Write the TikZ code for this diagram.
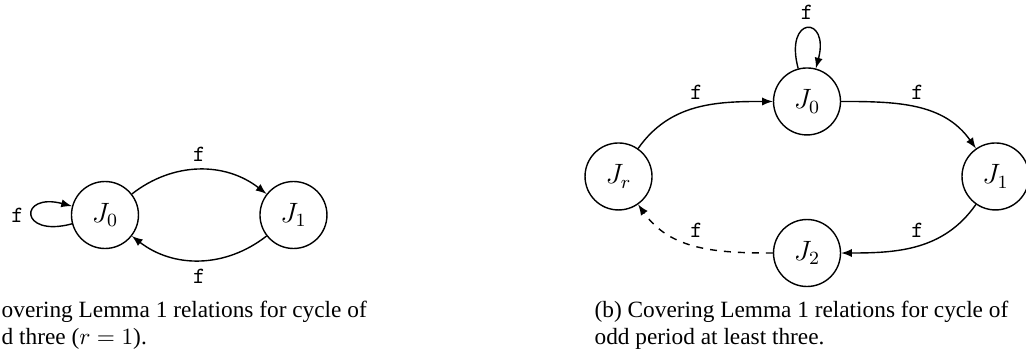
\documentclass[tikz,border=0pt]{standalone}
\usepackage{fontspec}
\setmainfont{Liberation Serif}
\begin{document}
\begin{tikzpicture}[semithick,
    stato/.style={circle,draw,minimum size=1.01cm,inner sep=0pt,font=\large},
    freccia/.style={-latex},
    etich/.style={font=\ttfamily,above},
    didasc/.style={anchor=base west,inner sep=0pt}]
    \useasboundingbox (0,0) rectangle (15.47,5.428);
    %stati figura (a)
    \node[stato] (J0a) at (1.583,2.186) {$J_0$};
    \node[stato] (J1a) at (4.425,2.186) {$J_1$};
    %frecce figura (a)
    \draw[freccia] (J0a) to[loop left] node[left,font=\ttfamily]{f} (J0a);
    \draw[freccia] (J0a) to[bend left=38] node[etich]{f} (J1a);
    \draw[freccia] (J1a) to[bend left=38] node[below,font=\ttfamily]{f} (J0a);
    %stati figura (b)
    \node[stato] (Jr) at (9.326,2.767) {$J_r$};
    \node[stato] (J0) at (12.168,3.898) {$J_0$};
    \node[stato] (J1) at (15.010,2.767) {$J_1$};
    \node[stato] (J2) at (12.168,1.613) {$J_2$};
    %frecce figura (b)
    \draw[freccia] (J0) to[loop above] node[etich]{f} (J0);
    \draw[freccia] (Jr) to[out=55,in=180] node[etich]{f} (J0);
    \draw[freccia] (J0) to[out=0,in=125] node[etich]{f} (J1);
    \draw[freccia] (J1) to[out=235,in=0] node[etich]{f} (J2);
    \draw[freccia,dashed] (J2) to[out=180,in=305] node[etich]{f} (Jr);
    %didascalie
    \node[didasc] (capa1) at (0.015,0.648) {overing Lemma 1 relations for cycle of};
    \node[didasc] (capa2) at (0.015,0.226) {d three ($r = 1$).};
    \node[didasc] (capb1) at (8.956,0.648) {(b) Covering Lemma 1 relations for cycle of};
    \node[didasc] (capb2) at (8.956,0.226) {odd period at least three.};
\end{tikzpicture}
\end{document}
